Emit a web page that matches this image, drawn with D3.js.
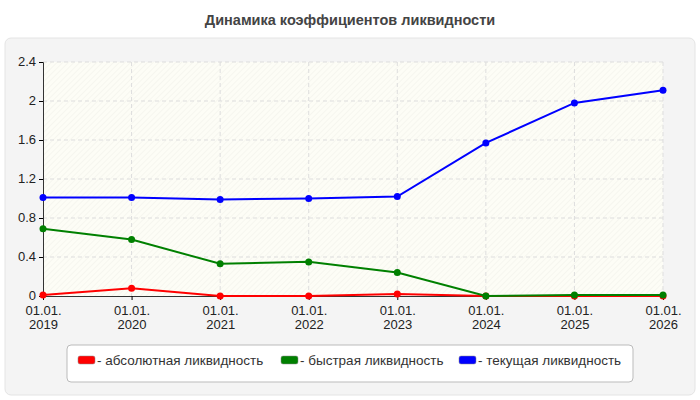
<!DOCTYPE html><html><head><meta charset="utf-8"><script src="https://cdn.jsdelivr.net/npm/d3@7"></script>
<style>body{margin:0;background:#fff;font-family:"Liberation Sans",Arial,sans-serif}</style></head><body><svg id="c" width="700" height="400"></svg>
<script>
const categories=["01.01.\n2019","01.01.\n2020","01.01.\n2021","01.01.\n2022","01.01.\n2023","01.01.\n2024","01.01.\n2025","01.01.\n2026"];
const absolute=[0.01,0.08,0.0,0.0,0.02,0.0,0.0,0.0];
const quick=[0.69,0.58,0.33,0.35,0.24,0.0,0.01,0.01];
const current=[1.01,1.01,0.99,1.00,1.02,1.57,1.98,2.11];
const yTicks=[0,0.4,0.8,1.2,1.6,2,2.4];
const seriesNames=["- абсолютная ликвидность","- быстрая ликвидность","- текущая ликвидность"];
const colors=["#ff0000","#008000","#0000ff"];
const F='"Liberation Sans",Arial,sans-serif';
const svg=d3.select("#c");
svg.append("text").attr("x",350).attr("y",25).attr("text-anchor","middle").attr("font-size",14.5).attr("font-weight","bold").attr("fill","#444").attr("font-family",F).text("Динамика коэффициентов ликвидности");
svg.append("rect").attr("x",5).attr("y",38).attr("width",690).attr("height",357).attr("rx",6).attr("fill","#f4f4f4").attr("stroke","#e4e4e4");
const defs=svg.append("defs");
const p=defs.append("pattern").attr("id","h").attr("width",4).attr("height",4).attr("patternUnits","userSpaceOnUse").attr("patternTransform","rotate(45)");
p.append("rect").attr("width",4).attr("height",4).attr("fill","#fdfdf6");
p.append("line").attr("x1",0).attr("y1",0).attr("x2",0).attr("y2",4).attr("stroke","#efefe8").attr("stroke-width",1);
const L=43,R=663,T=62,B=296;
const x=d3.scalePoint().domain(d3.range(categories.length)).range([L,R]);
const y=d3.scaleLinear().domain([0,2.4]).range([B,T]);
svg.append("rect").attr("x",L).attr("y",T).attr("width",R-L).attr("height",B-T).attr("fill","url(#h)");
const g=svg.append("g");
yTicks.forEach(t=>{if(t>0)g.append("line").attr("x1",L).attr("x2",R).attr("y1",y(t)).attr("y2",y(t)).attr("stroke","#ddd").attr("stroke-dasharray","4,3");});
categories.forEach((c,i)=>{if(i>0)g.append("line").attr("x1",x(i)).attr("x2",x(i)).attr("y1",T).attr("y2",B).attr("stroke","#ddd").attr("stroke-dasharray","4,3");});
svg.append("g").attr("transform",`translate(${L},0)`).call(d3.axisLeft(y).tickValues(yTicks).tickSize(4).tickFormat(d=>d)).call(a=>a.selectAll("text").attr("font-size",13).attr("fill","#222").attr("font-family",F).attr("dy","0.3em"));
const xa=svg.append("g").attr("transform",`translate(0,${B})`).call(d3.axisBottom(x).tickSize(4).tickFormat(""));
xa.selectAll(".tick").each(function(d){const t=d3.select(this).append("text").attr("fill","#222").attr("font-size",13).attr("text-anchor","middle").attr("font-family",F);
categories[d].split("\n").forEach((s,k)=>t.append("tspan").attr("x",0).attr("y",19+k*14).text(s));});
svg.selectAll(".domain").attr("stroke","#333");
const line=d3.line().x((d,i)=>x(i)).y(d=>y(d));
[absolute,quick,current].forEach((s,k)=>{
svg.append("path").attr("d",line(s)).attr("fill","none").attr("stroke",colors[k]).attr("stroke-width",2);
svg.selectAll(null).data(s).enter().append("circle").attr("cx",(d,i)=>x(i)).attr("cy",d=>y(d)).attr("r",3.5).attr("fill",colors[k]);});
svg.append("rect").attr("x",67).attr("y",345).attr("width",566).attr("height",37).attr("rx",4).attr("fill","#fff").attr("stroke","#bbb");
const lx=[78,281,459];
seriesNames.forEach((n,k)=>{svg.append("rect").attr("x",lx[k]).attr("y",356).attr("width",17).attr("height",8).attr("rx",2).attr("fill",colors[k]).attr("stroke","#888").attr("stroke-width",0.5);
svg.append("text").attr("x",lx[k]+19).attr("y",365).attr("font-size",13.5).attr("fill","#333").attr("font-family",F).text(n);});
</script></body></html>
